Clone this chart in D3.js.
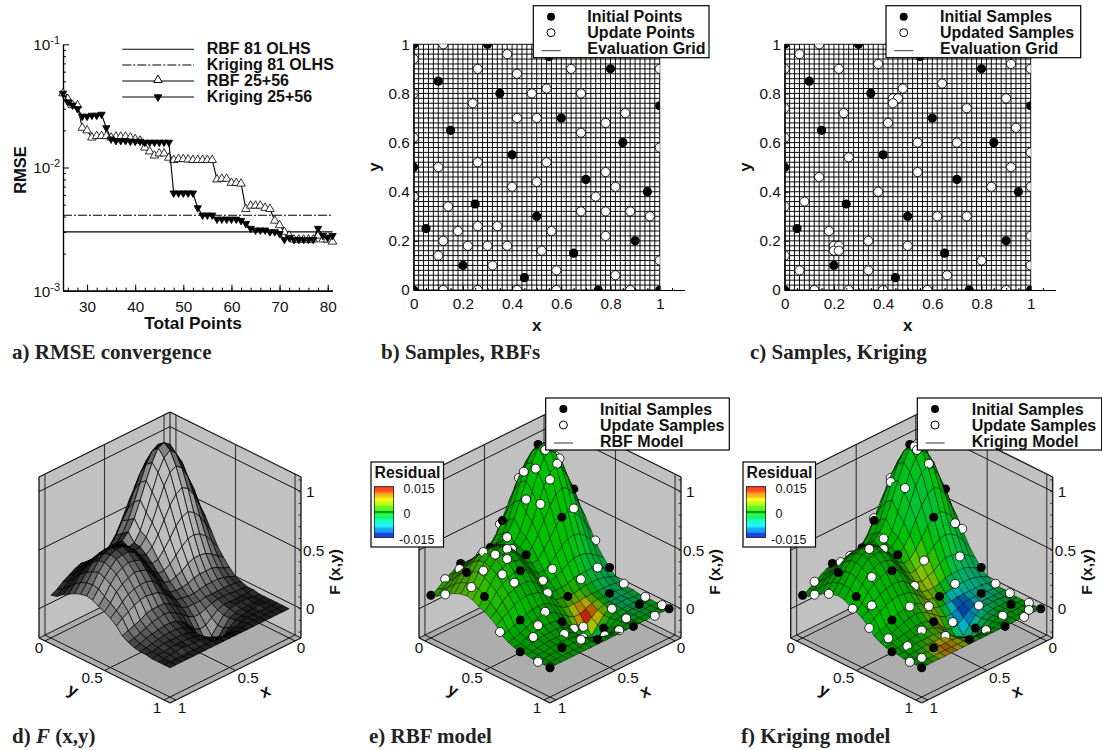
<!DOCTYPE html>
<html>
<head>
<meta charset="utf-8">
<script src="https://cdn.jsdelivr.net/npm/d3@7"></script>
<style>
body { margin: 0; background: #fff; }
svg { display: block; }
text { font-family: "Liberation Sans", sans-serif; fill: #111; }
.bold { font-weight: bold; }
.caption { font-family: "Liberation Serif", serif; font-weight: bold; font-size: 21px; fill: #222; }
</style>
</head>
<body>
<script>
// panel a: error history
var totalPoints = d3.range(25, 82);
var rmseRbf = [.040, .036, .032, .032, .021, .020, .0175, .018, .018, .018, .0175, .0178, .0178, .0178, .0175, .017, .0165, .0145, .0135, .0125,
    .013, .013, .012, .0115, .0117, .0117, .0116, .0115, .0115, .0115, .0115, .0115, .008, .0081, .0081, .0075, .0075, .0074, .0046, .0049,
    .0049, .0049, .0047, .0046, .0037, .0034, .003, .0028, .0026, .0026, .0026, .0026, .0026, .0028, .0026, .0026, .0025];
var rmseKriging = [.040, .034, .032, .030, .026, .026, .0265, .0265, .027, .021, .017, .0165, .0165, .0165, .0163, .0163, .0163, .016, .016, .016,
    .016, .016, .016, .0062, .0062, .0062, .0062, .0062, .0047, .0041, .0041, .0041, .0038, .0038, .0038, .0038, .0038, .0037, .0035, .0032,
    .0031, .0031, .0031, .003, .003, .0029, .0026, .0027, .0026, .0026, .0026, .0026, .0026, .0032, .0028, .0027, .0028];
var rmseRbfOlhs = 0.003, rmseKrigingOlhs = 0.0041;
var legendA = ["RBF 81 OLHS", "Kriging 81 OLHS", "RBF 25+56", "Kriging 25+56"];

// panels b-f: sample locations [x, y]
var initialPoints = [[0, 1], [.3, 1], [.55, .95], [.8, .9], [.1, .85], [.35, .8], [1, .75], [.6, .7], [.15, .65], [.85, .6], [.4, .55], [0, .5], [.7, .45],
    [.95, .4], [.25, .35], [.5, .3], [.05, .25], [.9, .2], [.65, .15], [.2, .1], [.45, .05], [0, 0], [.75, 0], [1, 0], [1, 1]];
var updatePointsRbf = [[.12, 1], [0, .94], [.38, .96], [.26, .9], [.42, .88], [.64, .9], [1, .9], [.54, .82], [.48, .8], [.68, .8], [0, .8], [.24, .76], [.86, .72],
    [.42, .7], [.5, .7], [.78, .68], [.68, .64], [0, .62], [1, .58], [.26, .52], [.54, .52], [.1, .5], [.78, .48], [.5, .44], [.4, .42], [.82, .42], [.74, .38], [0, .38],
    [.14, .34], [.68, .32], [.78, .32], [.88, .32], [.96, .3], [.26, .26], [.34, .26], [.18, .24], [.56, .24], [.12, .2], [.78, .22], [.22, .18], [.3, .18], [.38, .18],
    [.52, .16], [.1, .14], [.32, .1], [1, .12], [.58, .08], [.82, .06], [.12, 0], [.26, 0], [.42, 0], [.58, 0], [.88, 0]];
var updatePointsKriging = [[.14, 1], [.06, .96], [.22, .9], [.38, .92], [0, .9], [.48, .82], [.44, .78], [.46, .78], [.44, .76], [.64, .84], [.92, .92], [1, .9], [.9, .78],
    [.74, .74], [0, .74], [.24, .72], [.94, .66], [.42, .68], [.54, .6], [.7, .6], [0, .62], [1, .56], [.26, .54], [.92, .5], [.54, .48], [.14, .46], [.84, .42], [1, .42],
    [.38, .4], [.08, .36], [0, .34], [.62, .3], [.74, .3], [.18, .24], [.34, .2], [1, .22], [.5, .18], [.2, .18], [.22, .18], [.2, .16], [.22, .16], [0, .14], [.8, .12],
    [1, .1], [.06, .08], [.34, .08], [.66, .06], [.12, 0], [.26, 0], [.4, 0], [.58, 0], [.9, 0]];

// surface nodes, columns x = 0..1, rows y = 0..1, step 0.05
var surfaceX = d3.range(21).map(function (i) { return i / 20; });
var surfaceY = surfaceX;
var heights = [
    [.42, .55, .67, .75, .78, .76, .68, .58, .47, .37, .30, .25, .24, .24, .25, .26, .24, .21, .18, .14, .115],
    [.51, .67, .80, .90, .94, .91, .83, .71, .58, .50, .40, .34, .31, .30, .30, .30, .28, .25, .21, .17, .13],
    [.57, .74, .90, 1.01, 1.05, 1.02, .93, .80, .66, .53, .44, .38, .36, .35, .35, .35, .33, .30, .26, .21, .17],
    [.60, .77, .93, 1.05, 1.09, 1.07, .97, .84, .70, .57, .48, .43, .41, .42, .42, .42, .40, .36, .32, .26, .20],
    [.57, .74, .90, 1.00, 1.05, 1.01, .91, .77, .62, .49, .41, .40, .43, .47, .48, .48, .46, .42, .36, .30, .23],
    [.51, .67, .80, .90, .94, .91, .82, .69, .56, .46, .40, .40, .45, .50, .51, .52, .50, .46, .39, .32, .25],
    [.43, .55, .67, .75, .78, .75, .68, .58, .48, .40, .36, .38, .45, .50, .53, .53, .51, .47, .41, .33, .26],
    [.33, .42, .51, .57, .60, .58, .53, .45, .38, .32, .31, .35, .42, .48, .51, .51, .50, .45, .39, .32, .25],
    [.23, .30, .37, .41, .43, .42, .38, .33, .28, .25, .25, .30, .37, .44, .46, .47, .45, .42, .36, .28, .22],
    [.16, .20, .24, .27, .28, .28, .26, .22, .20, .18, .20, .25, .32, .38, .40, .41, .39, .36, .32, .25, .20],
    [.10, .12, .15, .17, .17, .17, .16, .14, .13, .13, .14, .19, .26, .31, .33, .33, .32, .30, .26, .21, .17],
    [.05, .07, .09, .10, .10, .10, .09, .08, .08, .09, .10, .15, .20, .24, .25, .26, .25, .23, .20, .17, .13],
    [.03, .04, .05, .05, .05, .05, .05, .04, .04, .04, .06, .10, .14, .17, .17, .17, .16, .13, .11, .09, .07],
    [.01, .02, .02, .03, .03, .03, .02, 0, -.02, -.02, .01, .05, .09, .12, .13, .12, .11, .09, .07, .05, .04],
    [.01, .01, .01, .01, .01, .01, -.01, -.05, -.09, -.10, -.07, -.01, .04, .07, .08, .08, .07, .06, .05, .03, .02],
    [0, 0, .01, .01, .01, 0, -.03, -.09, -.155, -.18, -.13, -.05, .01, .04, .05, .05, .05, .04, .03, .02, .01],
    [0, 0, 0, 0, 0, -.01, -.03, -.09, -.155, -.18, -.14, -.06, 0, .02, .03, .03, .03, .03, .02, .01, .01],
    [0, 0, .01, 0, 0, -.01, -.02, -.06, -.11, -.12, -.09, -.04, 0, .01, .02, .02, .02, .02, .01, .01, 0],
    [0, 0, 0, 0, 0, 0, -.01, -.03, -.05, -.06, -.04, -.02, 0, .01, .01, .01, .02, .01, .01, 0, 0],
    [0, 0, 0, 0, 0, 0, 0, -.01, -.02, -.02, -.01, -.01, 0, 0, 0, 0, 0, 0, 0, 0, 0],
    [0, 0, 0, 0, 0, 0, 0, 0, 0, 0, 0, 0, 0, 0, 0, 0, 0, 0, 0, 0, 0]
];
// residual in units of 0.001, same nodes
var residualRbf = [
    [0, 0, 0, 0, 0, 0, 0, 0, 0, 0, 1, 1, 1, 1, 1, 1, 1, 2, 2, 2, 2],
    [0, 0, 0, 0, 0, 0, 0, 0, 0, 0, 1, 1, 1, 1, 1, 1, 2, 2, 2, 2, 2],
    [0, 0, 0, 0, 0, 0, 0, 0, 0, 0, 0, 1, 1, 1, 1, 1, 2, 2, 3, 3, 2],
    [0, 0, 0, 0, 0, 0, 0, 0, 0, 0, 0, 1, 1, 1, 1, 1, 2, 3, 3, 3, 3],
    [-1, 0, 0, 0, 0, 0, 0, 0, 0, 0, 0, 0, 1, 1, 1, 1, 2, 3, 3, 3, 3],
    [-1, -1, 0, 0, 0, 0, 0, 0, 0, 0, 0, 0, 0, 1, 1, 1, 2, 2, 3, 3, 3],
    [-1, -1, -1, 0, 0, 0, 0, 0, 0, 0, 0, 0, 0, 0, 1, 1, 1, 2, 3, 3, 3],
    [-2, -2, -1, -1, 0, 0, 0, 0, 0, 0, 0, 0, 0, 0, 0, 1, 1, 1, 2, 2, 3],
    [-2, -2, -2, -1, -1, 0, 0, 0, 0, 0, 0, 0, 0, 0, 0, 1, 1, 1, 1, 2, 2],
    [-2, -2, -2, -2, -1, 0, 0, 0, 0, 0, 0, 0, 0, 0, 0, 0, 1, 1, 1, 1, 1],
    [-2, -3, -3, -2, -2, -1, 0, 1, 1, 0, 0, 0, 0, 0, 0, 0, 0, 1, 1, 1, 1],
    [-2, -3, -3, -3, -2, 0, 1, 2, 2, 1, 0, 0, 0, 0, 0, 0, 0, 0, 1, 1, 0],
    [-2, -3, -4, -3, -2, 1, 4, 6, 6, 3, 1, 0, 0, 0, 0, 0, 0, 0, 0, 0, 0],
    [-2, -3, -4, -4, -2, 2, 7, 14, 12, 6, 2, 0, 0, 0, 0, 0, 0, 0, 0, 0, 0],
    [-2, -3, -4, -5, -3, 2, 8, 15, 13, 6, 2, 0, 0, 0, 0, 0, 0, 0, 0, 0, 0],
    [-1, -3, -4, -4, -3, 1, 4, 5, -8, -10, -2, 1, 0, 0, 0, 0, 0, 0, 0, 0, 0],
    [-1, -2, -3, -4, -3, -1, 0, -1, -6, -8, -3, 0, 0, 0, 0, 0, 0, 0, 0, 0, 0],
    [-1, -2, -2, -3, -2, -1, 0, 0, -2, -3, -1, 0, 0, 0, 0, 0, 0, 0, 0, 0, 0],
    [0, -1, -2, -2, -2, -1, 0, 0, 0, 0, 0, 0, 0, 0, 0, 0, 0, 0, 0, 0, 0],
    [0, 0, -1, -1, -1, 0, 0, 0, 0, 0, 0, 0, 0, 0, 0, 0, 0, 0, 0, 0, 0],
    [0, 0, 0, 0, 0, 0, 0, 0, 0, 0, 0, 0, 0, 0, 0, 0, 0, 0, 0, 0, 0]
];
var residualKriging = [
    [0, 0, 0, 0, 0, 0, 0, 0, 0, 0, 0, 0, 0, 0, 0, 0, 0, 0, 0, 0, 0],
    [0, 0, 0, 0, 0, -1, -1, -1, 0, 0, 0, 0, 0, 0, 0, 0, 0, 0, 0, 0, 0],
    [0, 0, 0, 0, 0, -1, -1, -1, -1, 0, 0, 0, 0, 0, 0, 0, 0, 0, 0, 0, 0],
    [0, 0, 0, 0, 0, -1, -1, -1, -1, 0, 0, 0, 0, 0, 0, 0, 0, 0, 0, 0, 0],
    [0, 0, 0, 0, 0, -1, -1, -1, -1, 0, 0, 0, 0, 0, 0, 0, 0, 0, 0, 0, 0],
    [0, 0, 0, 0, -1, -1, -2, -2, -1, 0, 0, 0, 0, 0, 0, 0, 0, 0, 0, 0, 0],
    [0, 0, 0, 0, -1, -2, -2, -2, -1, 1, 0, 0, 0, 0, 0, 0, 0, 0, 0, 0, 0],
    [0, -1, -1, -1, -2, -2, -1, 0, 2, 2, 1, 0, 0, 0, 0, 0, 0, 0, 0, 0, 0],
    [-1, -2, -2, -2, -1, -1, 0, 2, 4, 5, 3, 1, 0, 0, 0, 0, 0, 0, 0, 0, 0],
    [-2, -3, -3, -3, -2, -1, 1, 3, 6, 6, 4, 2, 1, 0, 0, 0, 0, 0, 0, 0, 0],
    [-3, -4, -4, -4, -3, -2, 0, 3, 5, 6, 5, 3, 1, 0, 0, 0, 0, 0, 0, 0, 0],
    [-3, -5, -5, -5, -4, -5, -5, -3, 0, 4, 5, 4, 2, 0, 0, 0, 0, 0, 0, 0, 0],
    [-3, -5, -6, -6, -6, -9, -11, -9, -3, 2, 5, 5, 3, 1, 0, 0, 0, 0, 0, 0, 0],
    [-2, -4, -5, -6, -7, -10, -13, -12, -7, 0, 4, 7, 5, 2, 0, 0, 0, 0, 0, 0, 0],
    [-2, -3, -4, -5, -6, -9, -12, -12, -8, -2, 3, 7, 6, 2, 0, 0, 0, 0, 0, 0, 0],
    [-1, -2, -3, -3, -4, -6, -8, -8, -5, -1, 1, 5, 6, 3, 1, 0, 0, 0, 0, 0, 0],
    [0, -1, -2, -2, -2, -3, -4, -4, -3, -1, 1, 4, 5, 4, 3, 2, 1, 0, 0, 0, 0],
    [0, 0, -1, -1, -1, -2, -2, -3, -3, -1, 1, 3, 5, 6, 6, 5, 3, 1, 0, 0, 0],
    [0, 0, 0, -1, -1, -1, -1, -1, -1, 0, 1, 2, 5, 8, 10, 10, 7, 3, 1, 0, 0],
    [0, 0, 0, 0, 0, 0, 0, 0, 0, 0, 1, 2, 4, 8, 11, 12, 9, 4, 1, 0, 0],
    [0, 0, 0, 0, 0, 0, 0, 0, 0, 0, 1, 1, 3, 6, 8, 9, 7, 3, 1, 0, 0]
];
var residualStops = [-15, -7.5, 0, 7.5, 15];
var residualColors = ["#0000e0", "#00ffff", "#00f000", "#ffff00", "#ff0000"];
var captions = ["a) RMSE convergence", "b) Samples, RBFs", "c) Samples, Kriging", "e) RBF model", "f) Kriging model"];

var svg = d3.select("body").append("svg").attr("width", 1102).attr("height", 750);
var residualColor = d3.scaleLinear().domain(residualStops).range(residualColors);

// a) convergence history -------------------------------------------------
var a = svg.append("g");
var xA = d3.scaleLinear().domain([25, 81]).range([63, 332.5]);
var yA = d3.scaleLog().domain([0.001, 0.1]).range([290.7, 44.3]);

var minorLog = [];
[0.001, 0.01].forEach(function (d) { d3.range(2, 10).forEach(function (m) { minorLog.push(d * m); }); });

function styleAxis(g) {
    g.selectAll("path").attr("stroke", "#000").attr("stroke-width", 1.2);
    g.selectAll("line").attr("stroke", "#000");
    g.selectAll("text").attr("font-size", 15.3).attr("font-family", "Liberation Sans");
}

a.append("g").attr("transform", "translate(0,290.7)")
    .call(d3.axisBottom(xA).tickValues(d3.range(26, 82, 2)).tickSize(-3).tickSizeOuter(0).tickFormat(""))
    .call(styleAxis);
a.append("g").attr("transform", "translate(0,290.7)")
    .call(d3.axisBottom(xA).tickValues([30, 40, 50, 60, 70, 80]).tickSize(-6).tickPadding(10).tickSizeOuter(0))
    .call(styleAxis);
a.append("g").attr("transform", "translate(63,0)")
    .call(d3.axisLeft(yA).tickValues(minorLog).tickSize(-3).tickSizeOuter(0).tickFormat(""))
    .call(styleAxis);
a.append("g").attr("transform", "translate(63,0)")
    .call(d3.axisLeft(yA).tickValues([0.001, 0.01, 0.1]).tickSize(-6).tickPadding(3).tickSizeOuter(0).tickFormat(""))
    .call(styleAxis)
    .selectAll(".tick").each(function (d) {
        var t = d3.select(this).append("text").attr("x", -3).attr("dy", "0.35em").attr("text-anchor", "end").attr("font-size", 15.3);
        t.append("tspan").text("10");
        t.append("tspan").attr("font-size", 11).attr("dy", -6).text(String(Math.round(Math.log10(d))));
    });

var lineA = d3.line().x(function (d, i) { return xA(totalPoints[i]); }).y(function (d) { return yA(d); });

a.append("line").attr("x1", xA(25)).attr("x2", xA(81)).attr("y1", yA(rmseRbfOlhs)).attr("y2", yA(rmseRbfOlhs)).attr("stroke", "#000").attr("stroke-width", 1.1);
a.append("line").attr("x1", xA(25)).attr("x2", xA(81)).attr("y1", yA(rmseKrigingOlhs)).attr("y2", yA(rmseKrigingOlhs))
    .attr("stroke", "#000").attr("stroke-width", 1.1).attr("stroke-dasharray", "9,2,2,2");

var triUp = d3.symbol().type(d3.symbolTriangle).size(32);
var triDown = d3.symbol().type(d3.symbolTriangle).size(24);
function drawHistory(values, fill, flip) {
    a.append("path").attr("d", lineA(values)).attr("fill", "none").attr("stroke", "#000").attr("stroke-width", 1.1);
    a.append("g").selectAll("path").data(values).enter().append("path")
        .attr("d", flip ? triDown() : triUp())
        .attr("fill", fill).attr("stroke", "#000").attr("stroke-width", 0.8)
        .attr("transform", function (d, i) {
            return "translate(" + xA(totalPoints[i]) + "," + yA(d) + ")" + (flip ? " rotate(180)" : "");
        });
}
drawHistory(rmseRbf, "#fff", false);
drawHistory(rmseKriging, "#000", true);

var legendRowsA = [49.3, 65, 81, 97];
legendA.forEach(function (label, i) {
    var row = legendRowsA[i];
    var l = a.append("line").attr("x1", 122.3).attr("x2", 194).attr("y1", row).attr("y2", row).attr("stroke", "#000").attr("stroke-width", 1.1);
    if (i == 1) l.attr("stroke-dasharray", "9,2,2,2");
    if (i == 2) a.append("path").attr("d", triUp()).attr("fill", "#fff").attr("stroke", "#000").attr("transform", "translate(158," + (row - 1) + ")");
    if (i == 3) a.append("path").attr("d", triDown()).attr("fill", "#000").attr("stroke", "#000").attr("transform", "translate(158," + row + ") rotate(180)");
    a.append("text").attr("class", "bold").attr("x", 206.7).attr("y", row - 1).attr("dy", "0.35em").attr("font-size", 16).text(label);
});
a.append("text").attr("class", "bold").attr("font-size", 16.5).attr("text-anchor", "middle")
    .attr("transform", "translate(26,170) rotate(-90)").text("RMSE");
a.append("text").attr("class", "bold").attr("font-size", 17.3).attr("text-anchor", "middle")
    .attr("x", 193).attr("y", 329).text("Total Points");

// b) and c) sample maps --------------------------------------------------
var gridTicks = d3.range(51).map(function (i) { return i / 50; });
var unitTicks = [0, .2, .4, .6, .8, 1];

function drawSamples(left, updates, id, legendLeft, labels, textX) {
    var g = svg.append("g");
    var x = d3.scaleLinear().domain([0, 1.1]).range([left, left + 270.6]);
    var y = d3.scaleLinear().domain([0, 1]).range([290, 44.3]);

    svg.append("clipPath").attr("id", id).append("rect")
        .attr("x", x(0)).attr("y", y(1)).attr("width", x(1) - x(0)).attr("height", y(0) - y(1));

    g.selectAll(".gv").data(gridTicks).enter().append("line")
        .attr("x1", x).attr("x2", x).attr("y1", y(0)).attr("y2", y(1)).attr("stroke", "#000").attr("stroke-width", 0.95);
    g.selectAll(".gh").data(gridTicks).enter().append("line")
        .attr("y1", y).attr("y2", y).attr("x1", x(0)).attr("x2", x(1)).attr("stroke", "#000").attr("stroke-width", 0.95);

    var dots = g.append("g").attr("clip-path", "url(#" + id + ")");
    dots.selectAll(".up").data(updates).enter().append("circle")
        .attr("cx", function (d) { return x(d[0]); }).attr("cy", function (d) { return y(d[1]); })
        .attr("r", 4.6).attr("fill", "#fff").attr("stroke", "#000").attr("stroke-width", 0.9);
    dots.selectAll(".in").data(initialPoints).enter().append("circle")
        .attr("cx", function (d) { return x(d[0]); }).attr("cy", function (d) { return y(d[1]); })
        .attr("r", 4.6).attr("fill", "#000");

    g.append("g").attr("transform", "translate(0,290)")
        .call(d3.axisBottom(x).tickValues([.05, .1, .15, .25, .3, .35, .45, .5, .55, .65, .7, .75, .85, .9, .95, 1.05]).tickSize(-2).tickSizeOuter(0).tickFormat(""))
        .call(styleAxis);
    g.append("g").attr("transform", "translate(0,290)")
        .call(d3.axisBottom(x).tickValues(unitTicks).tickSize(-4).tickPadding(8).tickSizeOuter(0).tickFormat(d3.format("")))
        .call(styleAxis);
    g.append("g").attr("transform", "translate(" + x(0) + ",0)")
        .call(d3.axisLeft(y).tickValues(unitTicks).tickSize(-4).tickPadding(4).tickSizeOuter(0).tickFormat(d3.format("")))
        .call(styleAxis);

    g.append("text").attr("class", "bold").attr("font-size", 17).attr("text-anchor", "middle")
        .attr("x", x(.5)).attr("y", 331).text("x");
    g.append("text").attr("class", "bold").attr("font-size", 17).attr("text-anchor", "middle")
        .attr("transform", "translate(" + (left - 34) + ",167) rotate(-90)").text("y");

    drawLegend(legendLeft, 5.7, labels, textX);
}

function drawLegend(boxLeft, boxTop, labels, textX) {
    var g = svg.append("g");
    g.append("rect").attr("x", boxLeft).attr("y", boxTop).attr("width", labels.width).attr("height", 52)
        .attr("fill", "#fff").attr("stroke", "#000").attr("stroke-width", 1.2);
    var cx = boxLeft + 17.7;
    g.append("circle").attr("cx", cx).attr("cy", boxTop + 11).attr("r", 4).attr("fill", "#000");
    g.append("circle").attr("cx", cx).attr("cy", boxTop + 27).attr("r", 4).attr("fill", "#fff").attr("stroke", "#000");
    g.append("line").attr("x1", boxLeft + 8.3).attr("x2", boxLeft + 27.3).attr("y1", boxTop + 45).attr("y2", boxTop + 45).attr("stroke", "#333");
    labels.names.forEach(function (t, i) {
        g.append("text").attr("class", "bold").attr("x", textX).attr("y", boxTop + 11 + i * 16).attr("dy", "0.35em")
            .attr("font-size", 16).text(t);
    });
}

drawSamples(413.7, updatePointsRbf, "clipB", 533.3, { width: 175.7, names: ["Initial Points", "Update Points", "Evaluation Grid"] }, 587.3);
drawSamples(784.7, updatePointsKriging, "clipC", 886, { width: 194.7, names: ["Initial Samples", "Updated Samples", "Evaluation Grid"] }, 940);

// d), e), f) surfaces -----------------------------------------------------
var planScale = d3.scaleLinear().domain([-0.05, 1.05]).range([0, 131]);
var zScale = d3.scaleLinear().domain([-0.25, 1.125]).range([0, 161]);
// the mesh is coarser than the original, so cell tone stands in for line density
var shade = d3.scaleLinear().domain([10, 35, 70, 105, 150]).range([8, 32, 100, 150, 190]).clamp(true);
var tint = d3.scaleLinear().domain([10, 35, 70, 120]).range([0.38, 0.58, 0.68, 0.8]).clamp(true);

function heightAt(x, y) {
    var i = Math.min(19, Math.floor(x * 20)), j = Math.min(19, Math.floor(y * 20));
    var u = x * 20 - i, v = y * 20 - j;
    return (1 - v) * ((1 - u) * heights[j][i] + u * heights[j][i + 1]) + v * ((1 - u) * heights[j + 1][i] + u * heights[j + 1][i + 1]);
}

function draw3d(cx, residual, updates) {
    var g = svg.append("g");
    function project(x, y, z) {
        var p = planScale(x), q = planScale(y);
        return [cx - p + q, 573 + (p + q) * 0.496 - zScale(z) + zScale(-0.25)];
    }
    function poly(points) { return d3.line()(points) + "Z"; }

    var lo = -0.05, hi = 1.05, zb = -0.25, zt = 1.125;
    g.append("path").attr("d", poly([project(lo, lo, zb), project(hi, lo, zb), project(hi, lo, zt), project(lo, lo, zt)])).attr("fill", "#c1c1c1");
    g.append("path").attr("d", poly([project(lo, lo, zb), project(lo, hi, zb), project(lo, hi, zt), project(lo, lo, zt)])).attr("fill", "#c1c1c1");
    g.append("path").attr("d", poly([project(lo, lo, zb), project(hi, lo, zb), project(hi, hi, zb), project(lo, hi, zb)])).attr("fill", "#adadad");

    function seg(p1, p2, width, color) {
        g.append("line").attr("x1", p1[0]).attr("y1", p1[1]).attr("x2", p2[0]).attr("y2", p2[1])
            .attr("stroke", color || "#111").attr("stroke-width", width);
    }
    [0, .5, 1].forEach(function (t) {
        seg(project(t, lo, zb), project(t, lo, zt), 1.1, "#333");
        seg(project(lo, t, zb), project(lo, t, zt), 1.1, "#333");
        seg(project(lo, lo, t), project(hi, lo, t), 1);
        seg(project(lo, lo, t), project(lo, hi, t), 1);
        seg(project(t, lo, zb), project(t, hi, zb), 1);
        seg(project(lo, t, zb), project(hi, t, zb), 1);
    });
    seg(project(lo, lo, zt), project(hi, lo, zt), 1.2);
    seg(project(lo, lo, zt), project(lo, hi, zt), 1.2);
    seg(project(lo, lo, zb), project(lo, lo, zt), 1);
    seg(project(hi, lo, zb), project(hi, lo, zt), 1.3);
    seg(project(lo, hi, zb), project(lo, hi, zt), 1.3);
    seg(project(hi, lo, zb), project(hi, hi, zb), 1.2);
    seg(project(lo, hi, zb), project(hi, hi, zb), 1.2);
    seg(project(lo, lo, zb), project(hi, lo, zb), 1);
    seg(project(lo, lo, zb), project(lo, hi, zb), 1);

    // z axis ticks on the right edge
    d3.range(-0.2, 1.11, 0.1).forEach(function (t) {
        var p = project(lo, hi, t);
        seg([p[0] - 2.5, p[1]], p, 0.8);
    });
    [0, .5, 1].forEach(function (t) {
        var p = project(lo, hi, t);
        g.append("text").attr("x", p[0] + (t == .5 ? 2 : 5)).attr("y", p[1]).attr("dy", "0.35em").attr("font-size", 15.3).text(String(t));
    });

    // painter's order: back corner (0,0) to front corner (1,1)
    var items = [];
    d3.range(20).forEach(function (j) {
        d3.range(20).forEach(function (i) {
            items.push({ depth: surfaceX[i] + surfaceY[j] + 0.05, i: i, j: j });
        });
    });
    if (residual) {
        initialPoints.forEach(function (d) { items.push({ depth: d[0] + d[1] + 0.06, dot: d, fill: "#000" }); });
        updates.forEach(function (d) { items.push({ depth: d[0] + d[1] + 0.06, dot: d, fill: "#fff" }); });
    }
    items.sort(function (m, n) { return m.depth - n.depth; });

    items.forEach(function (it) {
        if (it.dot) {
            var c = project(it.dot[0], it.dot[1], heightAt(it.dot[0], it.dot[1]));
            g.append("circle").attr("cx", c[0]).attr("cy", c[1]).attr("r", 4.5).attr("fill", it.fill)
                .attr("stroke", it.fill == "#fff" ? "#000" : "none").attr("stroke-width", 0.8);
            return;
        }
        var i = it.i, j = it.j;
        var corners = [
            project(surfaceX[i], surfaceY[j], heights[j][i]),
            project(surfaceX[i + 1], surfaceY[j], heights[j][i + 1]),
            project(surfaceX[i + 1], surfaceY[j + 1], heights[j + 1][i + 1]),
            project(surfaceX[i], surfaceY[j + 1], heights[j + 1][i])
        ];
        var area = Math.abs(d3.polygonArea(corners));
        var fill;
        if (residual) {
            var r = (residual[j][i] + residual[j][i + 1] + residual[j + 1][i] + residual[j + 1][i + 1]) / 4;
            fill = d3.interpolateRgb("#000", residualColor(r))(tint(area));
        } else {
            var v = Math.round(shade(area));
            fill = "rgb(" + v + "," + v + "," + v + ")";
        }
        g.append("path").attr("d", poly(corners)).attr("fill", fill)
            .attr("stroke", "#000").attr("stroke-width", residual ? 0.4 : 0.7);
    });

    // axis labels
    function label(text, x, y, size, bold, rotate) {
        var t = g.append("text").attr("text-anchor", "middle").attr("font-size", size).attr("dy", "0.35em")
            .attr("transform", "translate(" + (cx + x) + "," + y + ") rotate(" + (rotate || 0) + ")").text(text);
        if (bold) t.attr("class", "bold");
    }
    label("0", -131, 648, 15.3);
    label("0.5", -78, 678, 15.3);
    label("1", -13, 707.7, 15.3);
    label("1", 12, 707.7, 15.3);
    label("0.5", 78, 678, 15.3);
    label("0", 131, 648, 15.3);
    label("y", -97, 690, 17, true, 26);
    label("x", 95, 691, 17, true, -26);
    label("F (x,y)", 165, 572, 15.5, true, -90);
}

draw3d(170, null, null);
draw3d(550, residualRbf, updatePointsRbf);
draw3d(921.7, residualKriging, updatePointsKriging);

drawLegend(545.7, 398, { width: 183.6, names: ["Initial Samples", "Update Samples", "RBF Model"] }, 600);
drawLegend(917.3, 398, { width: 184.4, names: ["Initial Samples", "Update Samples", "Kriging Model"] }, 971.7);

// residual keys
function drawResidualKey(left) {
    var g = svg.append("g");
    g.append("rect").attr("x", left).attr("y", 462).attr("width", 72.5).attr("height", 85)
        .attr("fill", "#fff").attr("stroke", "#000").attr("stroke-width", 1.2);
    g.append("text").attr("class", "bold").attr("x", left + 3.5).attr("y", 472.5).attr("dy", "0.35em").attr("font-size", 15.8).text("Residual");
    var y = d3.scaleLinear().domain([-15, 15]).range([537.3, 486.7]);
    g.selectAll(".band").data(d3.range(-15, 15, 0.5)).enter().append("rect")
        .attr("x", left + 3.3).attr("width", 19.4).attr("y", function (d) { return y(d + 0.5); }).attr("height", y(-15) - y(-14.4))
        .attr("fill", function (d) { return residualColor(d + 0.25); });
    g.append("line").attr("x1", left + 3.3).attr("x2", left + 22.7).attr("y1", y(0)).attr("y2", y(0)).attr("stroke", "#060").attr("stroke-width", 1.2);
    g.append("rect").attr("x", left + 3.3).attr("y", y(15)).attr("width", 19.4).attr("height", y(-15) - y(15)).attr("fill", "none").attr("stroke", "#000").attr("stroke-width", 0.7);
    g.append("text").attr("x", left + 32.5).attr("y", 489).attr("dy", "0.35em").attr("font-size", 12.5).text("0.015");
    g.append("text").attr("x", left + 32.5).attr("y", 514).attr("dy", "0.35em").attr("font-size", 12.5).text("0");
    g.append("text").attr("x", left + 28).attr("y", 540).attr("dy", "0.35em").attr("font-size", 12.5).text("-0.015");
}
drawResidualKey(371);
drawResidualKey(743);

// captions
var captionPlaces = [[12, 359], [381, 359], [750, 359], [369, 743], [741, 743]];
captions.forEach(function (t, i) {
    svg.append("text").attr("class", "caption").attr("x", captionPlaces[i][0]).attr("y", captionPlaces[i][1]).text(t);
});
var capD = svg.append("text").attr("class", "caption").attr("x", 12).attr("y", 743);
capD.append("tspan").text("d) ");
capD.append("tspan").attr("font-style", "italic").text("F");
capD.append("tspan").text(" (x,y)");
</script>
</body>
</html>
